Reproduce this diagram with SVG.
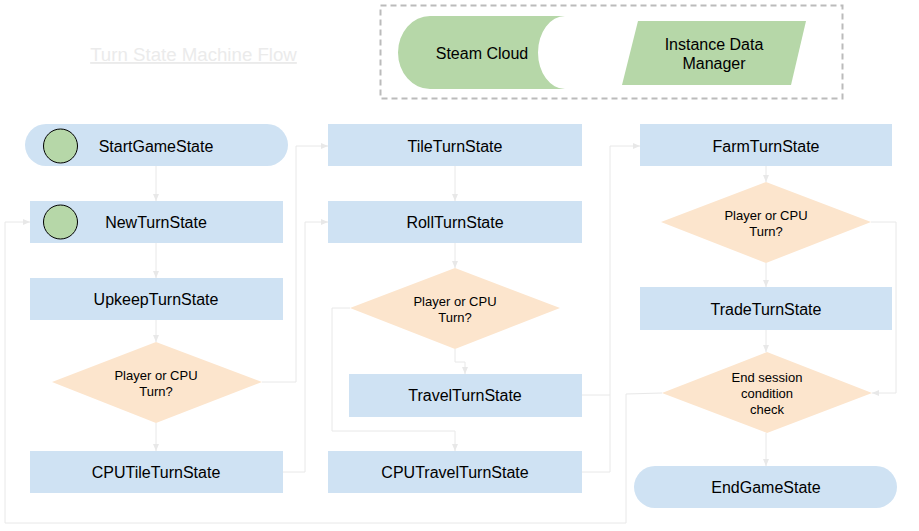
<svg xmlns="http://www.w3.org/2000/svg" width="919" height="531" viewBox="0 0 919 531">
<style>
.box{fill:#cfe2f3;}
.dia{fill:#fce5cd;}
.grn{fill:#b6d7a8;}
.t{font-family:"Liberation Sans",Arial,sans-serif;font-size:16px;fill:#000;text-anchor:middle;}
.s{font-family:"Liberation Sans",Arial,sans-serif;font-size:13px;fill:#000;text-anchor:middle;}
.c{fill:none;stroke:#e8e8e8;stroke-width:1;}
</style>
<defs>
<marker id="ah" markerWidth="8" markerHeight="8" refX="7" refY="4" orient="auto" markerUnits="userSpaceOnUse">
<path d="M0,1 L7,4 L0,7 Z" fill="#e8e8e8"/>
</marker>
</defs>
<rect width="919" height="531" fill="#fff"/>
<g id="title">
<text x="193.5" y="61" font-family="Liberation Sans, Arial, sans-serif" font-size="18.67" fill="#ebebeb" text-anchor="middle" text-decoration="underline">Turn State Machine Flow</text>
</g>
<g id="legend">
<rect x="380.5" y="5.5" width="462" height="93" fill="none" stroke="#bbbbbb" stroke-width="2" stroke-dasharray="6,4"/>
<path class="grn" d="M430,16 H565 A27,36.5 0 0 0 565,89 H430 A32,36.5 0 0 1 430,16 Z"/>
<text class="t" x="482" y="59">Steam Cloud</text>
<path class="grn" d="M638,21 H806 L791,85 H622 Z"/>
<text class="t" x="714" y="50">Instance Data</text>
<text class="t" x="714" y="69">Manager</text>
</g>
<g id="connectors">
<line class="c" x1="156" y1="166" x2="156" y2="201" marker-end="url(#ah)"/>
<line class="c" x1="156" y1="243" x2="156" y2="278" marker-end="url(#ah)"/>
<line class="c" x1="156" y1="320" x2="156" y2="342" marker-end="url(#ah)"/>
<line class="c" x1="156" y1="423" x2="156" y2="451" marker-end="url(#ah)"/>
<polyline class="c" points="262,382 296,382 296,146 328,146" marker-end="url(#ah)"/>
<polyline class="c" points="283,472 305,472 305,222 328,222" marker-end="url(#ah)"/>
<line class="c" x1="455" y1="166" x2="455" y2="201" marker-end="url(#ah)"/>
<line class="c" x1="455" y1="243" x2="455" y2="268" marker-end="url(#ah)"/>
<polyline class="c" points="455,349 455,362 465,362 465,374" marker-end="url(#ah)"/>
<polyline class="c" points="350,308 332,308 332,431 455,431 455,451" marker-end="url(#ah)"/>
<polyline class="c" points="582,395 610,395 610,146 640,146" marker-end="url(#ah)"/>
<polyline class="c" points="582,472 610,472 610,395"/>
<line class="c" x1="766" y1="166" x2="766" y2="182" marker-end="url(#ah)"/>
<line class="c" x1="766" y1="263" x2="766" y2="287" marker-end="url(#ah)"/>
<polyline class="c" points="871,222 896,222 896,393 872,393" marker-end="url(#ah)"/>
<line class="c" x1="766" y1="330" x2="766" y2="352" marker-end="url(#ah)"/>
<line class="c" x1="766" y1="433" x2="766" y2="466" marker-end="url(#ah)"/>
<polyline class="c" points="662,393 626,394 626,523 5,523 5,222 30,222" marker-end="url(#ah)"/>
</g>
<g id="StartGameState">
<rect class="box" x="25" y="124" width="263" height="42" rx="21"/>
<circle class="grn" cx="60.5" cy="146" r="17" stroke="#000" stroke-width="1"/>
<text class="t" x="156" y="151.5">StartGameState</text>
</g>
<g id="NewTurnState">
<rect class="box" x="30" y="201" width="253" height="42"/>
<circle class="grn" cx="60.5" cy="222" r="17" stroke="#000" stroke-width="1"/>
<text class="t" x="156" y="228">NewTurnState</text>
</g>
<g id="UpkeepTurnState">
<rect class="box" x="30" y="278" width="253" height="42"/>
<text class="t" x="156" y="305">UpkeepTurnState</text>
</g>
<g id="Decision1">
<polygon class="dia" points="156,342 262,382 156,423 52,382"/>
<text class="s" x="156" y="380">Player or CPU</text>
<text class="s" x="156" y="396">Turn?</text>
</g>
<g id="CPUTileTurnState">
<rect class="box" x="30" y="451" width="253" height="42"/>
<text class="t" x="156" y="478">CPUTileTurnState</text>
</g>
<g id="TileTurnState">
<rect class="box" x="328" y="124" width="254" height="42"/>
<text class="t" x="455" y="151.5">TileTurnState</text>
</g>
<g id="RollTurnState">
<rect class="box" x="328" y="201" width="254" height="42"/>
<text class="t" x="455" y="228">RollTurnState</text>
</g>
<g id="Decision2">
<polygon class="dia" points="455,268 560,308 455,349 350,308"/>
<text class="s" x="455" y="306">Player or CPU</text>
<text class="s" x="455" y="322">Turn?</text>
</g>
<g id="TravelTurnState">
<rect class="box" x="349" y="374" width="233" height="43"/>
<text class="t" x="465" y="401">TravelTurnState</text>
</g>
<g id="CPUTravelTurnState">
<rect class="box" x="328" y="451" width="254" height="42"/>
<text class="t" x="455" y="478">CPUTravelTurnState</text>
</g>
<g id="FarmTurnState">
<rect class="box" x="640" y="124" width="252" height="42"/>
<text class="t" x="766" y="151.5">FarmTurnState</text>
</g>
<g id="Decision3">
<polygon class="dia" points="766,182 871,222 766,263 661,222"/>
<text class="s" x="766" y="220">Player or CPU</text>
<text class="s" x="766" y="236">Turn?</text>
</g>
<g id="TradeTurnState">
<rect class="box" x="640" y="287" width="252" height="43"/>
<text class="t" x="766" y="314.5">TradeTurnState</text>
</g>
<g id="Decision4">
<polygon class="dia" points="767,352 872,393 767,433 662,393"/>
<text class="s" x="767" y="382">End session</text>
<text class="s" x="767" y="398">condition</text>
<text class="s" x="767" y="414">check</text>
</g>
<g id="EndGameState">
<rect class="box" x="634" y="466" width="263" height="42" rx="21"/>
<text class="t" x="766" y="493">EndGameState</text>
</g>
</svg>
